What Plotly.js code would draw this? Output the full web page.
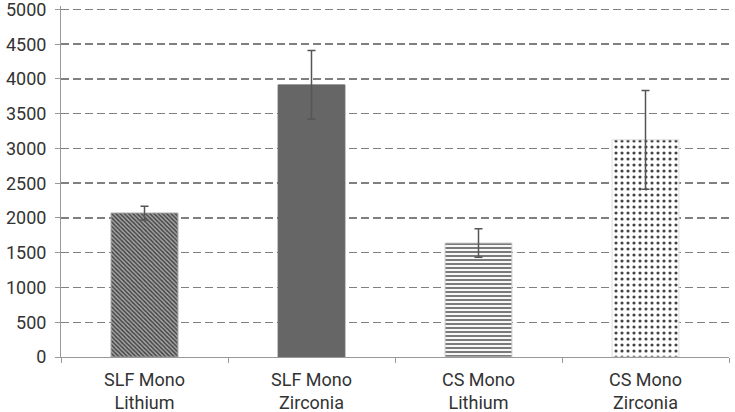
<!DOCTYPE html>
<html lang="en">
<head>
    <meta charset="UTF-8">
    <title>Bar chart with error bars</title>
    <script src="https://cdn.plot.ly/plotly-3.0.1.min.js" charset="utf-8"></script>
    <style>
        body { margin: 0; background: #fff; }
    </style>
</head>
<body>
    <div id="plot" style="width: 735px; height: 412px;"></div>

    <script>
        const categories = ['SLF Mono<br>Lithium', 'SLF Mono<br>Zirconia', 'CS Mono<br>Lithium', 'CS Mono<br>Zirconia'];
        const means = [2070, 3915, 1640, 3125];
        const errors = [100, 495, 205, 710];
        const yTicks = [0, 500, 1000, 1500, 2000, 2500, 3000, 3500, 4000, 4500, 5000];

        // one look per bar, like the original print fills
        const fills = [
            { bg: '#a8a8a8', fg: '#4a4a4a', shape: '\\', size: 3, solidity: 0.5, line: '#999' },
            { bg: '#666666', fg: '#666666', shape: '', size: 4, solidity: 0.3, line: '#666' },
            { bg: '#f8f8f8', fg: '#a6a6a6', shape: '-', size: 4, solidity: 0.35, line: '#ccc' },
            { bg: '#ffffff', fg: '#bbbbbb', shape: '.', size: 6, solidity: 0.22, line: '#ddd' }
        ];

        const bars = {
            type: 'bar',
            x: categories,
            y: means,
            width: 0.4,
            marker: {
                color: fills.map(f => f.bg),
                line: { color: fills.map(f => f.line), width: 1 },
                pattern: {
                    shape: fills.map(f => f.shape),
                    fgcolor: fills.map(f => f.fg),
                    fgopacity: 1,
                    size: fills.map(f => f.size),
                    solidity: fills.map(f => f.solidity),
                    fillmode: 'overlay'
                }
            },
            error_y: {
                type: 'data',
                array: errors,
                visible: true,
                color: '#555',
                thickness: 1.5,
                width: 4
            },
            hoverinfo: 'skip'
        };

        const layout = {
            width: 735,
            height: 412,
            margin: { l: 61, r: 6, t: 6, b: 55 },
            paper_bgcolor: '#fff',
            plot_bgcolor: '#fff',
            showlegend: false,
            font: { family: 'Roboto, "Liberation Sans", sans-serif', size: 18, color: '#333' },
            xaxis: {
                type: 'category',
                showline: true,
                linecolor: '#999',
                linewidth: 1,
                ticks: 'outside',
                tickson: 'boundaries',
                ticklen: 5,
                tickcolor: '#999',
                showgrid: false,
                ticklabelstandoff: 6,
                tickfont: { size: 18, color: '#333' }
            },
            yaxis: {
                range: [0, 5050],
                tickvals: yTicks,
                showline: true,
                linecolor: '#999',
                linewidth: 1,
                ticks: 'outside',
                ticklen: 5,
                tickcolor: '#999',
                showgrid: true,
                gridcolor: '#808080',
                gridwidth: 1.5,
                griddash: '8px,4px',
                zeroline: false,
                ticklabeloverflow: 'allow',
                ticklabelstandoff: 5,
                tickfont: { size: 18, color: '#333' }
            }
        };

        Plotly.newPlot('plot', [bars], layout, { displayModeBar: false, staticPlot: true });
    </script>
</body>
</html>
